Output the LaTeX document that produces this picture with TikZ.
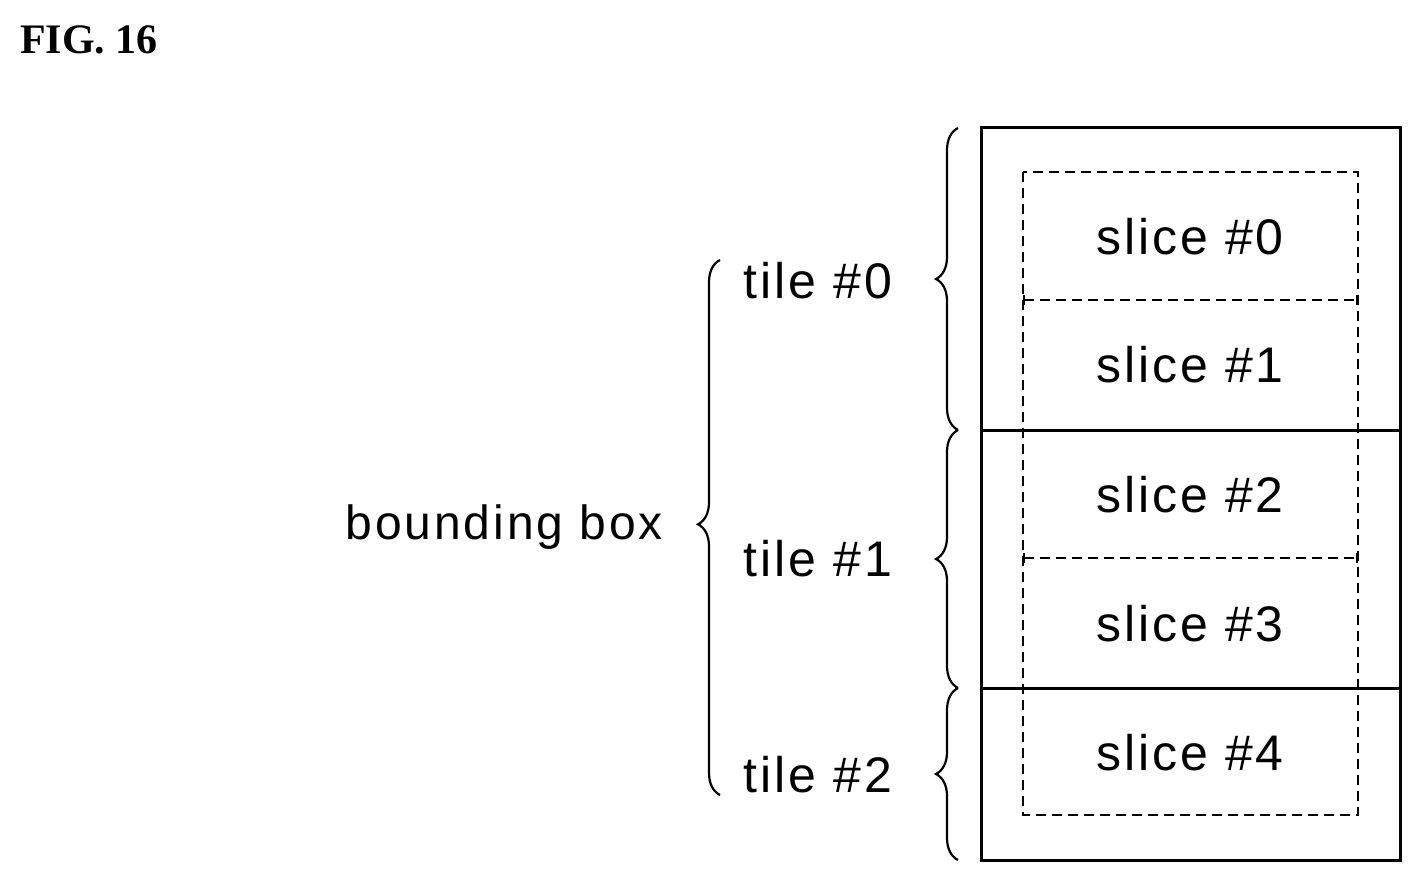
\documentclass[tikz,border=0pt]{standalone}
\usepackage{fontspec}
\setmainfont{Liberation Serif}
\newfontfamily\labelfont[LetterSpace=6]{Liberation Sans}
\usetikzlibrary{decorations.pathreplacing}
\tikzset{
  lbl/.style={font=\labelfont\fontsize{50}{52}\selectfont, inner sep=0pt},
  tilebrace/.style={decorate, decoration={brace, amplitude=22pt, aspect=#1}, line width=2.2pt},
  tilebrace/.default=0.5
}
\begin{document}
\begin{tikzpicture}[x=1pt, y=-1pt]
  \useasboundingbox (0,0) rectangle (1423,882);
  \node[font=\bfseries\fontsize{42}{44}\selectfont, anchor=west, inner sep=0pt] (fig) at (20,40) {FIG. 16};

  % Draw the tiles
  \draw[line width=3pt] (981,128) rectangle (1400,860);
  \draw[line width=3pt] (981,430) -- (1400,430);
  \draw[line width=3pt] (981,688) -- (1400,688);

  % Draw the slices
  \draw[line width=1.6pt, dash pattern=on 10pt off 6pt] (1023,172) rectangle (1358,815);
  \foreach \y in {300, 558} {
    \draw[line width=1.6pt, dash pattern=on 10pt off 6pt, |-|] (1023,\y) -- (1358,\y);
  }

  % Label the slices
  \foreach \i/\y in {0/237, 1/365, 2/495, 3/624, 4/753} {
    \node[lbl] (slice\i) at (1190,\y) {slice \#\i};
  }

  % Tile braces and labels
  \draw[tilebrace] (958,430) -- (958,128);
  \draw[tilebrace] (958,688) -- (958,430);
  \draw[tilebrace] (958,860) -- (958,688);
  \node[lbl] (tile0) at (818,281) {tile \#0};
  \node[lbl] (tile1) at (818,559) {tile \#1};
  \node[lbl] (tile2) at (818,775) {tile \#2};

  % Bounding box brace
  \draw[tilebrace=0.506] (720,795) -- (720,260);
  \node[lbl, font=\labelfont\fontsize{48}{50}\selectfont, anchor=east] (bbox) at (663,527) {bounding box};
\end{tikzpicture}
\end{document}
